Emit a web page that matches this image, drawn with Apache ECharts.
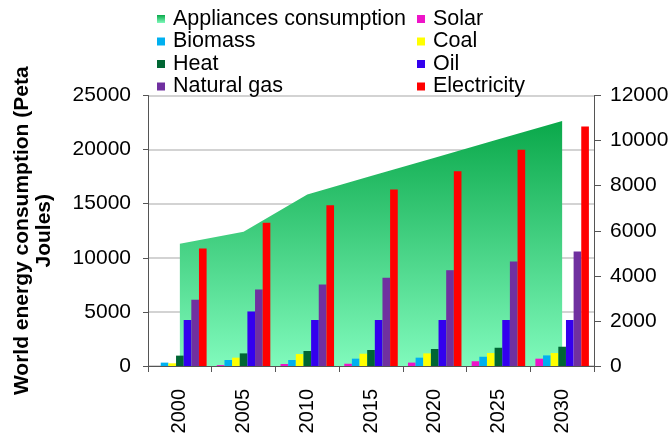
<!DOCTYPE html>
<html>
<head>
<meta charset="utf-8">
<script src="https://cdn.jsdelivr.net/npm/echarts@6/dist/echarts.min.js"></script>
<style>
  html, body { margin: 0; padding: 0; background: #ffffff; }
  #chart { width: 672px; height: 433px; }
</style>
</head>
<body>
<div id="chart"></div>
<script>
// Years on the category axis
const years = ['2000', '2005', '2010', '2015', '2020', '2025', '2030'];

// Total appliances consumption (left axis, PJ)
const appliances = [11300, 12400, 15850, 17550, 19250, 20950, 22650];

// Consumption by energy source (right axis, PJ)
const solar       = [0, 40, 90, 100, 150, 210, 325];
const biomass     = [150, 265, 265, 325, 370, 410, 470];
const coal        = [120, 370, 530, 545, 560, 575, 575];
const heat        = [460, 560, 665, 710, 755, 810, 855];
const oil         = [2040, 2420, 2040, 2040, 2040, 2040, 2040];
const naturalGas  = [2940, 3395, 3615, 3910, 4250, 4635, 5075];
const electricity = [5210, 6360, 7130, 7835, 8635, 9595, 10625];

// Axis tick values
const leftTicks = { min: 0, max: 25000, interval: 5000 };
const rightTicks = { min: 0, max: 12000, interval: 2000 };

const FONT = 'Liberation Sans, Arial, sans-serif';
const AXIS_COLOR = '#555555';
const plain = v => String(v);

const greenFade = new echarts.graphic.LinearGradient(0, 0, 0, 1, [
  { offset: 0, color: '#0aa84a' },
  { offset: 1, color: '#80fabc' }
]);

const barSeries = [
  ['Solar', solar, '#ee14c8'],
  ['Biomass', biomass, '#00b0f0'],
  ['Coal', coal, '#ffff00'],
  ['Heat', heat, '#006633'],
  ['Oil', oil, '#3300ee'],
  ['Natural gas', naturalGas, '#7030a0'],
  ['Electricity', electricity, '#ff0000']
].map(([name, data, color]) => ({
  name,
  type: 'bar',
  yAxisIndex: 1,
  data,
  barGap: '0%',
  barCategoryGap: '16%',
  itemStyle: { color },
  emphasis: { disabled: true }
}));

const legendBase = {
  orient: 'vertical',
  top: 3,
  icon: 'rect',
  itemWidth: 8,
  itemHeight: 8,
  itemGap: 0.5,
  textStyle: { fontFamily: FONT, fontSize: 21.5, color: '#000', lineHeight: 22, padding: [0, 0, 0, 3] },
  selectedMode: false
};

const chart = echarts.init(document.getElementById('chart'), null, { renderer: 'canvas' });
chart.setOption({
  animation: false,
  backgroundColor: '#ffffff',
  grid: { left: 148, right: 78, top: 95.5, bottom: 67, containLabel: false, outerBoundsMode: 'none' },
  legend: [
    Object.assign({}, legendBase, {
      left: 152,
      data: ['Appliances consumption', 'Biomass', 'Heat', 'Natural gas']
    }),
    Object.assign({}, legendBase, {
      left: 412,
      data: ['Solar', 'Coal', 'Oil', 'Electricity']
    })
  ],
  xAxis: {
    type: 'category',
    data: years,
    boundaryGap: true,
    axisLine: { lineStyle: { color: AXIS_COLOR, width: 1 } },
    axisTick: { show: true, length: 6, inside: false, lineStyle: { color: AXIS_COLOR } },
    axisLabel: { rotate: 90, margin: 23, fontFamily: FONT, fontSize: 20, color: '#000' },
    splitLine: { show: false }
  },
  yAxis: [
    {
      type: 'value',
      min: leftTicks.min,
      max: leftTicks.max,
      interval: leftTicks.interval,
      name: 'World energy consumption (Peta\nJoules)',
      nameLocation: 'middle',
      nameRotate: 90,
      nameGap: 93,
      nameTextStyle: { fontFamily: FONT, fontSize: 21, fontWeight: 'bold', color: '#000', lineHeight: 22, align: 'center' },
      axisLine: { show: true, lineStyle: { color: AXIS_COLOR, width: 1 } },
      axisTick: { show: true, length: 5, lineStyle: { color: AXIS_COLOR } },
      axisLabel: { margin: 17, fontFamily: FONT, fontSize: 21, color: '#000', formatter: plain },
      splitLine: { show: true, lineStyle: { color: '#c4c4c4', width: 1.5 } }
    },
    {
      type: 'value',
      position: 'right',
      min: rightTicks.min,
      max: rightTicks.max,
      interval: rightTicks.interval,
      axisLine: { show: true, lineStyle: { color: AXIS_COLOR, width: 1 } },
      axisTick: { show: true, length: 7, lineStyle: { color: AXIS_COLOR } },
      axisLabel: { margin: 16, fontFamily: FONT, fontSize: 21, color: '#000', formatter: plain },
      splitLine: { show: false }
    }
  ],
  series: [
    {
      name: 'Appliances consumption',
      type: 'line',
      yAxisIndex: 0,
      data: appliances,
      showSymbol: false,
      symbol: 'none',
      lineStyle: { width: 0 },
      itemStyle: { color: greenFade },
      areaStyle: { color: greenFade, opacity: 1 },
      z: 1,
      emphasis: { disabled: true }
    }
  ].concat(barSeries)
});
</script>
</body>
</html>
